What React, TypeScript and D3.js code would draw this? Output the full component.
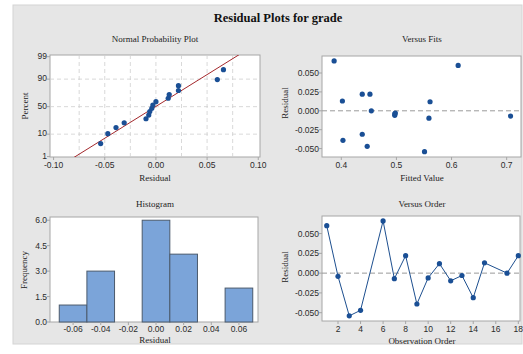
import React from "react";
import * as d3 from "d3";

// ---- Data ----
const observationOrder = [1, 2, 3, 4, 6, 7, 8, 9, 10, 11, 12, 13, 14, 15, 17, 18];
const residuals = [0.06, -0.004, -0.054, -0.047, 0.066, -0.007, 0.022, -0.039, -0.006, 0.012, -0.0097, -0.003, -0.031, 0.013, 0.0, 0.022];
const fittedValues = [0.612, 0.497, 0.551, 0.447, 0.387, 0.707, 0.438, 0.403, 0.497, 0.561, 0.559, 0.498, 0.438, 0.402, 0.4545, 0.452];

const histBinCenters = [-0.06, -0.04, -0.02, 0.0, 0.02, 0.04, 0.06];
const histCounts = [1, 3, 0, 6, 4, 0, 2];

const nppPercentTicks = [1, 10, 50, 90, 99];
const nppResidualTicks = [-0.1, -0.05, 0, 0.05, 0.1];
const nppGridX = [-0.075, -0.05, -0.025, 0, 0.025, 0.05, 0.075];
const residualTicks = [0.05, 0.025, 0, -0.025, -0.05];
const fitTicks = [0.4, 0.5, 0.6, 0.7];
const histXTicks = [-0.06, -0.04, -0.02, 0, 0.02, 0.04, 0.06];
const histYTicks = [0, 1.5, 3, 4.5, 6];
const orderTicks = [2, 4, 6, 8, 10, 12, 14, 16, 18];

// inverse normal CDF (Acklam)
function invNorm(p: number): number {
  const a = [-3.969683028665376e1, 2.209460984245205e2, -2.759285104469687e2, 1.38357751867269e2, -3.066479806614716e1, 2.506628277459239];
  const b = [-5.447609879822406e1, 1.615858368580409e2, -1.556989798598866e2, 6.680131188771972e1, -1.328068155288572e1];
  const c = [-7.784894002430293e-3, -3.223964580411365e-1, -2.400758277161838, -2.549732539343734, 4.374664141464968, 2.938163982698783];
  const d = [7.784695709041462e-3, 3.224671290700398e-1, 2.445134137142996, 3.754408661907416];
  const pl = 0.02425;
  let q, r;
  if (p < pl) {
    q = Math.sqrt(-2 * Math.log(p));
    return (((((c[0] * q + c[1]) * q + c[2]) * q + c[3]) * q + c[4]) * q + c[5]) / ((((d[0] * q + d[1]) * q + d[2]) * q + d[3]) * q + 1);
  } else if (p <= 1 - pl) {
    q = p - 0.5;
    r = q * q;
    return ((((((a[0] * r + a[1]) * r + a[2]) * r + a[3]) * r + a[4]) * r + a[5]) * q) / (((((b[0] * r + b[1]) * r + b[2]) * r + b[3]) * r + b[4]) * r + 1);
  } else {
    q = Math.sqrt(-2 * Math.log(1 - p));
    return -(((((c[0] * q + c[1]) * q + c[2]) * q + c[3]) * q + c[4]) * q + c[5]) / ((((d[0] * q + d[1]) * q + d[2]) * q + d[3]) * q + 1);
  }
}

const TICK_FONT = "'Liberation Sans', Arial, sans-serif";
const SERIF = "'Liberation Serif', 'Times New Roman', serif";
const TICK_COLOR = "#2b2b2b";
const FRAME = "#a6a6a6";
const DOT = "#1a4f95";

type Box = { l: number; t: number; r: number; b: number };

export default function App() {
  // --- Normal probability plot ---
  const npp: Box = { l: 50, t: 55, r: 260, b: 157 };
  const nx = d3.scaleLinear().domain([-0.1035, 0.1017]).range([npp.l, npp.r]);
  const ny = d3.scaleLinear().domain([invNorm(0.01) - 0.02, invNorm(0.99) + 0.08]).range([npp.b, npp.t]);
  const n = residuals.length;
  const sorted = [...residuals].sort((a, b) => a - b);
  const nppPts = sorted.map((v, i) => ({ x: v, z: invNorm((i + 1 - 0.3) / (n + 0.4)) }));
  const mean = d3.mean(residuals) as number;
  const sd = d3.deviation(residuals) as number;
  const zLine = [-3.5, 3.5];
  const nppLine = d3.line<number>().x((z) => nx(mean + sd * z)).y((z) => ny(z))(zLine) as string;
  const pctY = (p: number) => ny(invNorm(p / 100));

  // --- Versus fits ---
  const vf: Box = { l: 322, t: 56, r: 521, b: 157 };
  const fx = d3.scaleLinear().domain([0.365, 0.726]).range([vf.l, vf.r]);
  const fy = d3.scaleLinear().domain([-0.0611, 0.0725]).range([vf.b, vf.t]);

  // --- Histogram ---
  const hg: Box = { l: 50, t: 217, r: 258, b: 322 };
  const hx = d3.scaleLinear().domain([-0.0767, 0.0738]).range([hg.l, hg.r]);
  const hy = d3.scaleLinear().domain([0, 6.19]).range([hg.b, hg.t]);
  const binW = 0.02;

  // --- Versus order ---
  const vo: Box = { l: 322, t: 216, r: 520, b: 321 };
  const ox = d3.scaleLinear().domain([0.58, 18.15]).range([vo.l, vo.r]);
  const oy = d3.scaleLinear().domain([-0.0605, 0.0722]).range([vo.b, vo.t]);
  const orderLine = d3
    .line<number>()
    .x((_, i) => ox(observationOrder[i]))
    .y((v) => oy(v))(residuals) as string;

  const frame = (p: Box) => (
    <rect x={p.l} y={p.t} width={p.r - p.l} height={p.b - p.t} fill="#fff" stroke={FRAME} strokeWidth={1} />
  );

  const yTicks = (vals: number[], pos: (v: number) => number, xPos: number, fmt: (v: number) => string, tickLeft: number, dy = 3) =>
    vals.map((v, i) => (
      <g key={i}>
        <line x1={tickLeft - 3} x2={tickLeft} y1={pos(v)} y2={pos(v)} stroke={FRAME} />
        <text x={xPos} y={pos(v) + dy} textAnchor="end" fontSize={8.5} fontFamily={TICK_FONT} fill={TICK_COLOR}>
          {fmt(v)}
        </text>
      </g>
    ));

  const xTicks = (vals: number[], scale: (v: number) => number, bottom: number, yPos: number, fmt: (v: number) => string) =>
    vals.map((v, i) => (
      <g key={i}>
        <line x1={scale(v)} x2={scale(v)} y1={bottom} y2={bottom + 3} stroke={FRAME} />
        <text x={scale(v)} y={yPos} textAnchor="middle" fontSize={8.5} fontFamily={TICK_FONT} fill={TICK_COLOR}>
          {fmt(v)}
        </text>
      </g>
    ));

  const f3 = d3.format(".3f");
  const f2 = d3.format(".2f");
  const f1 = d3.format(".1f");
  const minus = (s: string) => s.replace("−", "-");

  const label = (x: number, y: number, s: string) => (
    <text x={x} y={y} textAnchor="middle" fontSize={9} fontFamily={SERIF} fill="#222">
      {s}
    </text>
  );
  const vlabel = (x: number, y: number, s: string) => (
    <text transform={`translate(${x},${y}) rotate(-90)`} textAnchor="middle" fontSize={9} fontFamily={SERIF} fill="#222">
      {s}
    </text>
  );

  return (
    <svg width={523} height={354} style={{ position: "absolute", left: 0, top: 0 }}>
      <rect x={0} y={0} width={523} height={354} fill="#fff" />
      <rect x={13} y={5} width={509} height={339} fill="#e6e6e6" stroke="#d4d4d4" />
      <defs>
        <clipPath id="nppClip">
          <rect x={npp.l} y={npp.t} width={npp.r - npp.l} height={npp.b - npp.t} />
        </clipPath>
      </defs>

      <text x={278} y={22} textAnchor="middle" fontSize={12.5} fontWeight="bold" fontFamily={SERIF} fill="#111">
        Residual Plots for grade
      </text>

      {/* Normal Probability Plot */}
      {label(155, 42, "Normal Probability Plot")}
      {frame(npp)}
      {nppGridX.map((v, i) => (
        <line key={i} x1={nx(v)} x2={nx(v)} y1={npp.t} y2={npp.b} stroke="#cfcfcf" strokeDasharray="4,3" strokeWidth={0.8} />
      ))}
      {nppPercentTicks.slice(1, 4).map((p, i) => (
        <line key={i} x1={npp.l} x2={npp.r} y1={pctY(p)} y2={pctY(p)} stroke="#cfcfcf" strokeDasharray="4,3" strokeWidth={0.8} />
      ))}
      <path d={nppLine} stroke="#a3282c" strokeWidth={1} fill="none" clipPath="url(#nppClip)" />
      {nppPts.map((p, i) => (
        <circle key={i} cx={nx(p.x)} cy={ny(p.z)} r={2.6} fill={DOT} />
      ))}
      {yTicks(nppPercentTicks, pctY, 47, (p) => String(p), npp.l, 2)}
      {xTicks(nppResidualTicks, nx, npp.b, 168, (v) => minus(f2(v)))}
      {label(155, 181, "Residual")}
      {vlabel(28, 106, "Percent")}

      {/* Versus Fits */}
      {label(422, 42, "Versus Fits")}
      {frame(vf)}
      <line x1={vf.l} x2={vf.r} y1={fy(0)} y2={fy(0)} stroke="#9a9a9a" strokeDasharray="5,3" strokeWidth={1} />
      {residuals.map((v, i) => (
        <circle key={i} cx={fx(fittedValues[i])} cy={fy(v)} r={2.6} fill={DOT} />
      ))}
      {yTicks(residualTicks, fy, 319, (v) => minus(f3(v)), vf.l)}
      {xTicks(fitTicks, fx, vf.b, 168, (v) => f1(v))}
      {label(422, 181, "Fitted Value")}
      {vlabel(288, 103, "Residual")}

      {/* Histogram */}
      {label(155, 207, "Histogram")}
      {frame(hg)}
      {histCounts.map((c, i) =>
        c > 0 ? (
          <rect
            key={i}
            x={hx(histBinCenters[i] - binW / 2)}
            y={hy(c)}
            width={hx(histBinCenters[i] + binW / 2) - hx(histBinCenters[i] - binW / 2)}
            height={hy(0) - hy(c)}
            fill="#7ba4d9"
            stroke="#4b5a6c"
            strokeWidth={1}
          />
        ) : null
      )}
      {yTicks(histYTicks, hy, 47, (v) => f1(v), hg.l)}
      {xTicks(histXTicks, hx, hg.b, 332, (v) => minus(f2(v)))}
      {label(155, 343, "Residual")}
      {vlabel(27, 270, "Frequency")}

      {/* Versus Order */}
      {label(422, 207, "Versus Order")}
      {frame(vo)}
      <line x1={vo.l} x2={vo.r} y1={oy(0)} y2={oy(0)} stroke="#9a9a9a" strokeDasharray="5,3" strokeWidth={1} />
      <path d={orderLine} fill="none" stroke="#1d4f8f" strokeWidth={1} />
      {residuals.map((v, i) => (
        <circle key={i} cx={ox(observationOrder[i])} cy={oy(v)} r={2.6} fill={DOT} />
      ))}
      {yTicks(residualTicks, oy, 319, (v) => minus(f3(v)), vo.l)}
      {xTicks(orderTicks, ox, vo.b, 332, (v) => String(v))}
      {label(422, 344, "Observation Order")}
      {vlabel(288, 267, "Residual")}
    </svg>
  );
}
